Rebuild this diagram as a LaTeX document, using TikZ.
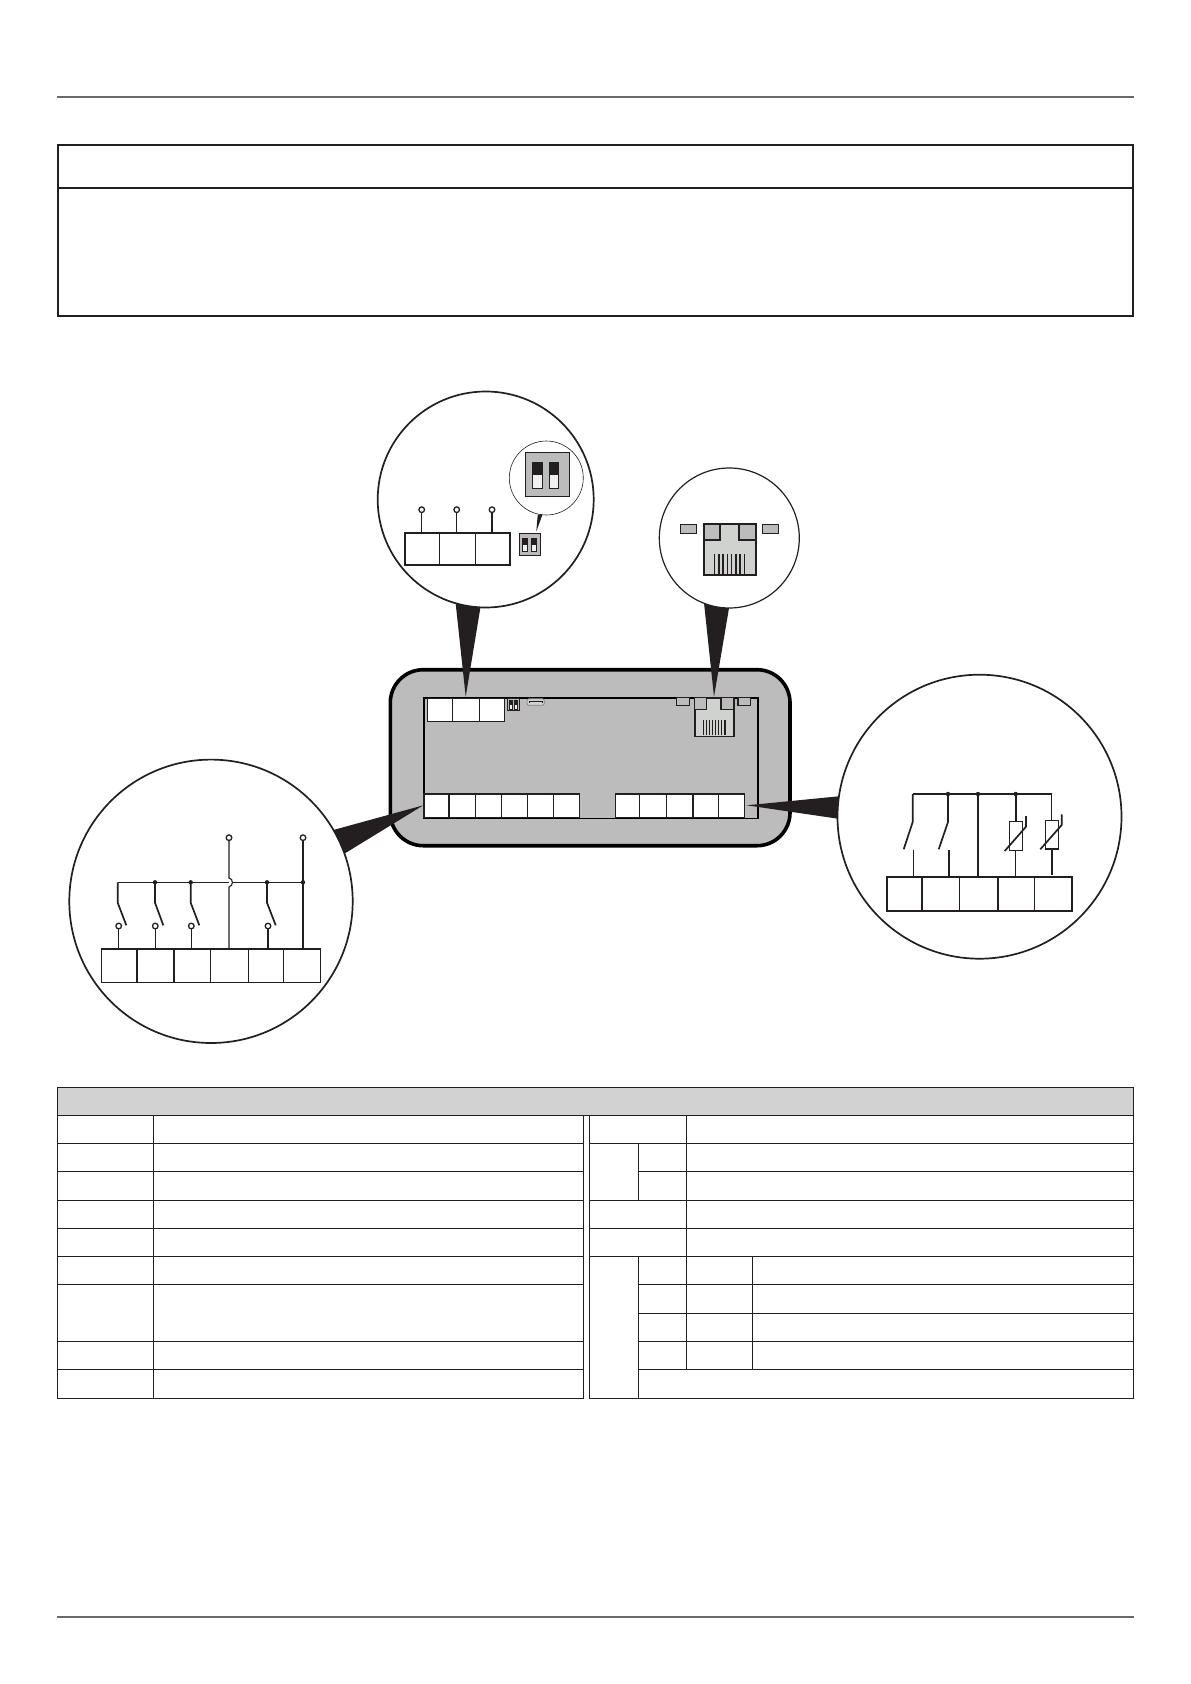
\documentclass[tikz,border=0pt]{standalone}
\definecolor{ink}{HTML}{231F20}
\definecolor{devgray}{HTML}{BCBCBC}
\definecolor{hdrgray}{HTML}{D2D2D2}
\definecolor{rjgray}{HTML}{D0D2D0}
\definecolor{rulegray}{HTML}{6A6A6A}
\tikzset{
 rim/.style={draw=ink,line width=1.7pt,fill=white},
 cell/.style={draw=ink,line width=1.3pt},
 wire/.style={draw=ink,line width=1.1pt},
 wirethick/.style={draw=ink,line width=1.7pt},
 wedge/.style={fill=ink,draw=none},
 ring/.style={draw=ink,line width=1.3pt,fill=white},
 tdot/.style={fill=ink,draw=none},
 term/.style={draw=ink,line width=1.4pt,fill=white},
 termthick/.style={draw=ink,line width=1.9pt},
 divthin/.style={draw=ink,line width=.9pt},
 divthick/.style={draw=ink,line width=1.5pt},
}
\begin{document}
\begin{tikzpicture}[x=1pt,y=-1pt]
\useasboundingbox (0,0) rectangle (1191,1684);
% page rules
\draw[rulegray,line width=2pt] (57.3,96.8) -- (1133.5,96.8);
\draw[rulegray,line width=2pt] (57.3,1617) -- (1133.5,1617);
% top box
\draw[draw=ink,line width=2pt] (57.7,145) rectangle (1133,315.7);
\draw[draw=ink,line width=2pt] (57.7,187.7) -- (1133,187.7);
% device
\draw[draw=black,line width=3.6pt,fill=devgray,rounded corners=33pt] (390.3,669.7) rectangle (790,845.7);
\draw[draw=black,line width=1.6pt] (423.7,697.7) rectangle (757.7,818.3);
% device top terminal
\draw[term] (427.3,698.3) rectangle (504.3,721.3);
\draw[divthin] (452.3,698.3) -- (452.3,721.3);
\draw[divthick] (479.3,698.3) -- (479.3,721.3);
% device dip
\draw[draw=ink,line width=1.3pt,fill=devgray] (507.3,698.3) rectangle (519.7,710.7);
\draw[draw=ink,line width=.7pt,fill=white!88!gray] (509.3,700.7) rectangle (512.3,709);
\draw[draw=ink,line width=.7pt,fill=white!88!gray] (514,700.7) rectangle (517,709);
\fill[ink] (509.3,700.7) rectangle (512.3,704.5);
\fill[ink] (514,700.7) rectangle (517,704.5);
% device usb
\draw[draw=gray,line width=.8pt,fill=rjgray,rounded corners=2pt] (527,698.7) rectangle (544.3,705.3);
\fill[ink] (528.5,700.8) rectangle (543,703.4);
\fill[rjgray] (529.5,701.6) rectangle (542,702.6);
% device leds
\draw[draw=ink,line width=1.5pt,fill=devgray] (676.3,697.7) rectangle (689.7,705.7);
\draw[draw=ink,line width=1.5pt,fill=devgray] (738,697.7) rectangle (750.7,705.7);
% device rj45
\draw[draw=ink,line width=1.6pt,fill=rjgray] (694.7,697.7) rectangle (733.7,736.3);
\draw[draw=ink,line width=1.4pt,fill=devgray] (694.7,697.7) rectangle (706.7,709.7);
\draw[draw=ink,line width=1.4pt,fill=devgray] (721,697.7) rectangle (733.7,709.7);
\foreach \sx in {703.2,706.3,709.4,712.5,715.6,718.7,721.8,724.9}
  \draw[draw=ink,line width=1.2pt] (\sx,720) -- (\sx,735);
% device bottom terminals
\draw[term] (424,794) rectangle (579.3,817.7);
\foreach \dx/\st in {449/divthick,475.3/divthin,501.3/divthin,527.7/divthick,553.7/divthin}
  \draw[\st] (\dx,794) -- (\dx,817.7);
\draw[term] (615.7,794) rectangle (744.7,817.7);
\foreach \dx/\st in {639.7/divthick,666/divthin,693/divthick,718.3/divthin}
  \draw[\st] (\dx,794) -- (\dx,817.7);
% wedges
\fill[wedge] (455.3,600) -- (481,604) -- (465.7,696.7) -- cycle;
\fill[wedge] (703.7,600) -- (729.7,604) -- (714,696.7) -- cycle;
\fill[wedge] (333.3,830) -- (345,853.3) -- (423.3,805.3) -- cycle;
\fill[wedge] (842,796) -- (842,819.3) -- (746.7,805.3) -- cycle;
% top-left bubble
\draw[rim] (485.7,499.5) circle (108);
\draw[draw=ink,line width=.6pt,fill=white] (546.3,478) circle (37);
\fill[wedge] (537.7,514.8) -- (542.5,514.4) -- (536.3,531.7) -- cycle;
\draw[draw=ink,line width=1.4pt,fill=devgray] (525.3,452.3) rectangle (569.7,496.7);
\draw[draw=ink,line width=1pt,fill=white!88!gray] (532.3,462.3) rectangle (542.7,488.7);
\draw[draw=ink,line width=1pt,fill=white!88!gray] (549.3,462.3) rectangle (558.7,488.7);
\fill[ink] (532.3,462.3) rectangle (542.7,474.7);
\fill[ink] (549.3,462.3) rectangle (558.7,474.7);
\draw[draw=ink,line width=1.1pt,fill=devgray] (519.3,533.3) rectangle (540.7,555.3);
\draw[draw=ink,line width=.8pt,fill=white!88!gray] (522.3,538) rectangle (527.7,551.7);
\draw[draw=ink,line width=.8pt,fill=white!88!gray] (531.3,538) rectangle (536,551.7);
\fill[ink] (522.3,538) rectangle (527.7,544.7);
\fill[ink] (531.3,538) rectangle (536,544.7);
\draw[wire] (421.7,532.7) -- (421.7,512.4);
\draw[wire] (456.7,532.7) -- (456.7,512.4);
\draw[wirethick] (492,532.7) -- (492,512.4);
\draw[ring] (421.7,509.7) circle (2.8);
\draw[ring] (456.7,509.7) circle (2.8);
\draw[ring] (492,509.7) circle (2.8);
\draw[term,line width=1.9pt] (404.7,532.7) rectangle (510.3,565.3);
\draw[divthin] (439.3,532.7) -- (439.3,565.3);
\draw[divthin] (475.3,532.7) -- (475.3,565.3);
% rj45 bubble
\draw[draw=ink,line width=1.2pt,fill=white] (729.3,538) circle (70);
\draw[draw=ink,line width=1.5pt,fill=devgray] (680.3,524.3) rectangle (696.7,533.7);
\draw[draw=ink,line width=1.5pt,fill=devgray] (762.3,524.3) rectangle (778.7,533.7);
\draw[draw=ink,line width=1.9pt,fill=rjgray] (703.7,523.7) rectangle (755.7,575.3);
\draw[draw=ink,line width=1.8pt,fill=devgray] (703.7,523.7) rectangle (720.3,540);
\draw[draw=ink,line width=1.8pt,fill=devgray] (739,523.7) rectangle (755.7,540);
\foreach \sx/\lw in {714.7/1.4,718.9/1.6,723.1/1.4,727.3/1.4,731.5/1.4,735.7/1.6,739.9/1.4,744.1/.9}
  \draw[draw=ink,line width=\lw pt] (\sx,554) -- (\sx,574.4);
% left bubble
\draw[rim] (211,901.3) circle (141.7);
\draw[wire] (117.7,882.3) -- (229,882.3);
\draw[wire] (232.5,882.3) -- (303,882.3);
\draw[wirethick] (117.7,882.3) -- (117.7,902.7) -- (126.3,925.3);
\draw[wirethick] (155,882.3) -- (155,902.7) -- (163.3,925.3);
\draw[wirethick] (190.7,882.3) -- (190.7,902.7) -- (199.3,925.3);
\draw[wirethick] (267,882.3) -- (267,902.7) -- (275.7,925.3);
\fill[tdot] (155,882.3) circle (2.2);
\fill[tdot] (190.7,882.3) circle (2.2);
\fill[tdot] (267,882.3) circle (2.2);
\fill[tdot] (303,882.3) circle (2.2);
\draw[wire] (118.7,948.7) -- (118.7,928.7);
\draw[wire] (155.3,948.7) -- (155.3,928.7);
\draw[wire] (191.3,948.7) -- (191.3,928.7);
\draw[wirethick] (268,948.7) -- (268,928.7);
\draw[ring] (118.7,926) circle (2.8);
\draw[ring] (155.3,926) circle (2.8);
\draw[ring] (191.3,926) circle (2.8);
\draw[ring] (268,926) circle (2.8);
\draw[wire] (229,948.7) -- (229,887) .. controls (233.5,886) and (233.5,878.5) .. (229,878) -- (229,840.5);
\draw[wire] (303,948.7) -- (303,882.3);
\draw[wirethick] (303,882.3) -- (303,840.5);
\draw[ring] (229,837.7) circle (2.8);
\draw[ring] (303,837.7) circle (2.8);
\draw[term,line width=1.3pt] (101.3,948.7) rectangle (320.3,982.3);
\draw[termthick] (101.3,948.7) -- (320.3,948.7);
\foreach \dx/\st in {137/divthick,174/divthick,210.7/divthin,248.3/divthick,283.7/divthin}
  \draw[\st] (\dx,948.7) -- (\dx,982.3);
% right bubble
\draw[rim] (979.5,816.7) circle (142);
\draw[wire] (912.7,794) -- (1051.7,794);
\draw[wirethick] (912.7,794) -- (912.7,822) -- (903.7,849.3);
\draw[wirethick] (948,794) -- (948,822) -- (938.7,849.3);
\draw[wire] (913.3,850) -- (913.3,876.7);
\draw[wirethick] (948.7,850) -- (948.7,876.7);
\draw[wirethick] (978,794) -- (978,876.7);
\draw[wirethick] (1015.7,794) -- (1015.7,821.7);
\draw[wire] (1015.7,850.3) -- (1015.7,876.7);
\draw[wire] (1051.7,794) -- (1051.7,820.3);
\draw[wirethick] (1051.7,849) -- (1051.7,875);
\draw[draw=ink,line width=1.4pt,fill=white] (1009.3,821.7) rectangle (1022.7,850.3);
\draw[draw=ink,line width=1.4pt,fill=white] (1045.3,820.3) rectangle (1058.7,849);
\draw[wirethick] (1004.7,851) -- (1026,826.7) -- (1026,816);
\draw[wirethick] (1040.3,849.3) -- (1061.7,825) -- (1061.7,814.3);
\fill[tdot] (948,794) circle (2.2);
\fill[tdot] (978,794) circle (2.2);
\fill[tdot] (1015.7,794) circle (2.2);
\draw[term,line width=1.9pt] (887,876.7) rectangle (1072.3,910.7);
\foreach \dx/\st in {922/divthick,959.7/divthick,998/divthick,1034.3/divthin}
  \draw[\st] (\dx,876.7) -- (\dx,910.7);
% table
\draw[cell,fill=hdrgray] (57.8,1087.3) rectangle (1133.5,1115.3);
\draw[cell] (57.8,1115.3) rectangle (583.7,1398.3);
\foreach \ry in {1143.3,1171.3,1200.3,1228.3,1256.3,1284.3,1341.3,1369.3}
  \draw[cell] (57.8,\ry) -- (583.7,\ry);
\draw[cell] (153.5,1115.3) -- (153.5,1398.3);
\draw[cell] (589.7,1115.3) rectangle (1133.5,1398.3);
\foreach \ry in {1143.3,1200.3,1228.3,1256.3}
  \draw[cell] (589.7,\ry) -- (1133.5,\ry);
\foreach \ry in {1171.3,1284.3,1313.3,1341.3,1369.3}
  \draw[cell] (638.6,\ry) -- (1133.5,\ry);
\draw[cell] (638.6,1143.3) -- (638.6,1200.3);
\draw[cell] (638.6,1256.3) -- (638.6,1398.3);
\draw[cell] (686.5,1115.3) -- (686.5,1369.3);
\draw[cell] (752.7,1256.3) -- (752.7,1369.3);
\end{tikzpicture}
\end{document}
